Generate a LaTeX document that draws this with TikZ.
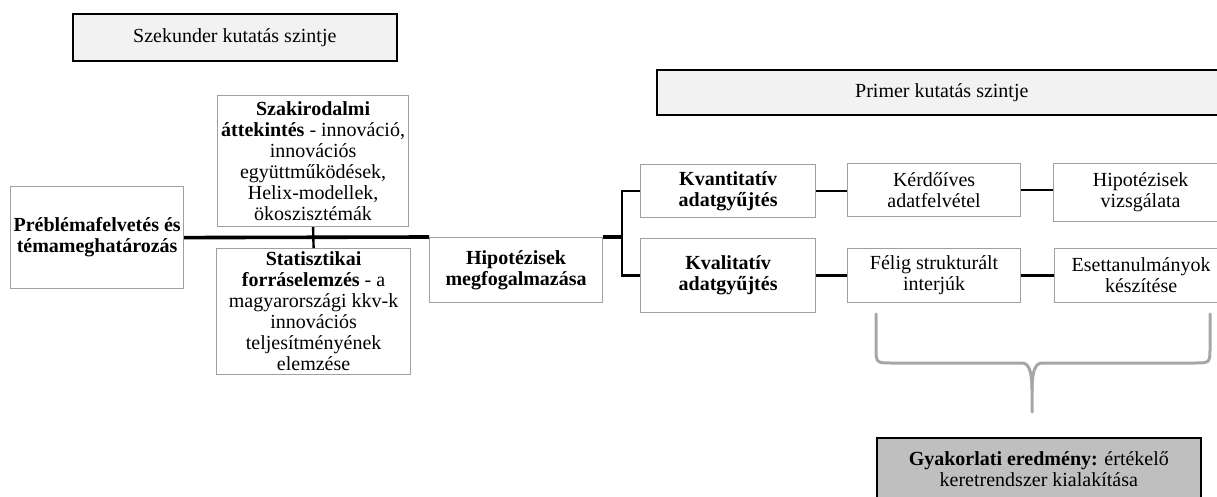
\documentclass[tikz,border=0pt]{standalone}
\usepackage{fontspec}
\setmainfont{Liberation Serif}
\definecolor{boxgray}{RGB}{160,160,160}
\definecolor{lightfill}{RGB}{242,242,242}
\definecolor{darkfill}{RGB}{191,191,191}
\definecolor{bracegray}{RGB}{166,166,166}
\tikzset{
  txt/.style={font=\fontsize{20}{21}\selectfont, align=center, inner sep=0pt},
  graybox/.style={txt, draw=boxgray, line width=1.2pt, anchor=north west},
  levelbox/.style={txt, draw=black, line width=1.6pt, fill=lightfill, anchor=north west},
  resultbox/.style={txt, draw=black, line width=1.6pt, fill=darkfill, anchor=north west},
  mainline/.style={draw=black, line width=3.6pt},
  conn/.style={draw=black, line width=2.4pt},
  brace/.style={draw=bracegray, line width=3pt, line cap=round, line join=round}
}
\begin{document}
\begin{tikzpicture}[x=1pt, y=-1pt]
\useasboundingbox (0,0) rectangle (1217,497);
\clip (0,0) rectangle (1217,497);

% level boxes
\node[levelbox, minimum width=324pt, minimum height=47pt] (szek) at (72,13) {Szekunder kutatás szintje};
\node[levelbox, minimum width=570pt, minimum height=45pt] (prim) at (656,69) {Primer kutatás szintje};

% secondary research
\node[graybox, minimum width=173pt, minimum height=102pt] (prob) at (10,186)
  {\textbf{Préblémafelvetés és}\\\textbf{témameghatározás}};
\node[graybox, minimum width=191pt, minimum height=131pt] (szak) at (217,95)
  {\textbf{Szakirodalmi}\\\textbf{áttekintés} - innováció,\\innovációs\\együttműködések,\\Helix-modellek,\\ökoszisztémák};
\node[graybox, minimum width=194pt, minimum height=126pt] (stat) at (216,248)
  {\textbf{Statisztikai}\\\textbf{forráselemzés} - a\\magyarországi kkv-k\\innovációs\\teljesítményének\\elemzése};
\node[graybox, minimum width=173pt, minimum height=65pt] (hipm) at (429,237)
  {\textbf{Hipotézisek}\\\textbf{megfogalmazása}};

% primary research
\node[graybox, minimum width=175pt, minimum height=53pt] (kvan) at (640,164)
  {\textbf{Kvantitatív}\\\textbf{adatgyűjtés}};
\node[graybox, minimum width=175pt, minimum height=74pt] (kval) at (640,238)
  {\textbf{Kvalitatív}\\\textbf{adatgyűjtés}};
\node[graybox, minimum width=173pt, minimum height=53pt] (kerd) at (847,163)
  {Kérdőíves\\adatfelvétel};
\node[graybox, minimum width=174pt, minimum height=58pt] (hipv) at (1053,163)
  {Hipotézisek\\vizsgálata};
\node[graybox, minimum width=173pt, minimum height=54pt] (feli) at (847,248)
  {Félig strukturált\\interjúk};
\node[graybox, minimum width=173pt, minimum height=54pt] (eset) at (1054,248)
  {Esettanulmányok\\készítése};

% result
\node[resultbox, minimum width=324pt, minimum height=63pt] (gyak) at (876,437)
  {\textbf{Gyakorlati eredmény:} értékelő\\keretrendszer kialakítása};

% connectors
\coordinate (fork) at (622,237);
\draw[mainline] (prob.east) -- (hipm.north west);
\draw[mainline] (hipm.north east) -- (fork);
\draw[conn] (szak.south) -- (stat.north);
\draw[conn] (kvan.west) -| (fork) |- (kval.west);
\draw[conn] (kvan.east) -- (kvan.east -| kerd.west);
\draw[conn] (kerd.east) -- (kerd.east -| hipv.west);
\draw[conn] (kval.east) -- (kval.east -| feli.west);
\draw[conn] (feli.east) -- (feli.east -| eset.west);

% brace
\draw[brace] (876,314) -- (876,347) .. controls (876,363) .. (892,363) -- (1022,363)
  .. controls (1029,363) and (1032,372) .. (1032,390) -- (1032,412);
\draw[brace] (1210,314) -- (1210,347) .. controls (1210,363) .. (1194,363) -- (1042,363)
  .. controls (1035,363) and (1032,372) .. (1032,390);
\end{tikzpicture}
\end{document}
